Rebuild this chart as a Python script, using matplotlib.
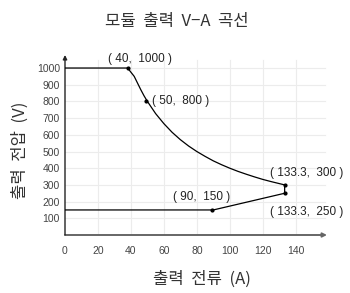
import matplotlib
matplotlib.use("Agg")
import matplotlib.pyplot as plt

# curve points (current A, voltage V)
current = [0, 38, 40, 42, 44, 46, 48, 50, 55, 60, 65, 70, 75, 80, 85, 90, 95, 100,
           105, 110, 115, 120, 125, 133.3, 133.3, 90, 0]
voltage = [1000, 1000, 975, 950, 910, 870, 833, 800, 727, 667, 615, 571, 533, 500, 471, 444, 421, 400,
           381, 364, 348, 333, 320, 300, 250, 150, 150]

# marked points and their labels
mark_x = [38, 49, 133.3, 133.3, 89.5]
mark_y = [1000, 800, 300, 250, 150]
mark_text = ["( 40,  1000 )", "( 50,  800 )", "( 133.3,  300 )", "( 133.3,  250 )", "( 90,  150 )"]

x_ticks = [0, 20, 40, 60, 80, 100, 120, 140]
y_ticks = [100, 200, 300, 400, 500, 600, 700, 800, 900, 1000]

kr = ["Noto Sans CJK KR", "DejaVu Sans"]

fig = plt.figure(figsize=(3.5, 2.93), dpi=100)
ax = fig.add_axes([65 / 350, (293 - 235) / 293, (327 - 65) / 350, (235 - 55) / 293])
ax.set_xlim(0, 159)
ax.set_ylim(0, 1078)

for s in ax.spines.values():
    s.set_visible(False)

# grid
for x in x_ticks[1:]:
    ax.plot([x, x], [0, 1050], color="#ececec", lw=0.8, zorder=0)
for y in y_ticks:
    ax.plot([0, 158], [y, y], color="#ececec", lw=0.8, zorder=0)

# axes with arrows
ax.annotate("", xy=(1.0, 0), xytext=(0, 0), xycoords="axes fraction",
            arrowprops=dict(arrowstyle="-|>", color="#666666", lw=1.4,
                            mutation_scale=6, shrinkA=0, shrinkB=0))
ax.annotate("", xy=(0, 1.0), xytext=(0, 0), xycoords="axes fraction",
            arrowprops=dict(arrowstyle="-|>", color="#222222", lw=1.0,
                            mutation_scale=6, shrinkA=0, shrinkB=0))

ax.plot(current, voltage, color="black", lw=0.9, zorder=3)
ax.plot(mark_x, mark_y, "o", color="black", ms=2, zorder=4)

offsets = [(-14, 6.5), (4.5, 0), (-10.6, 8.6), (-10.6, -13.4), (-28.4, 9.4)]
for x, y, t, (dx, dy) in zip(mark_x, mark_y, mark_text, offsets):
    ax.annotate(t, (x, y), xytext=(dx, dy), textcoords="offset points",
                fontsize=8.5, family="Liberation Sans", color="#222222",
                ha="left", va="center")

ax.set_xticks(x_ticks)
ax.set_yticks(y_ticks)
ax.tick_params(length=0, labelsize=7.5, colors="#444444")
ax.tick_params(axis="x", pad=8)
ax.tick_params(axis="y", pad=3.6)
for lab in ax.get_xticklabels() + ax.get_yticklabels():
    lab.set_family("Liberation Sans")

fig.text(0.505, 0.925, "모듈  출력  V−A  곡선", family=kr, fontsize=12,
         color="#333333", ha="center", va="center")
fig.text(0.577, 0.047, "출력  전류  (A)", family=kr, fontsize=12,
         color="#333333", ha="center", va="center")
fig.text(0.058, 0.488, "출력  전압  (V)", family=kr, fontsize=12,
         color="#333333", ha="center", va="center", rotation=90)

fig.savefig("out.png", dpi=100)
